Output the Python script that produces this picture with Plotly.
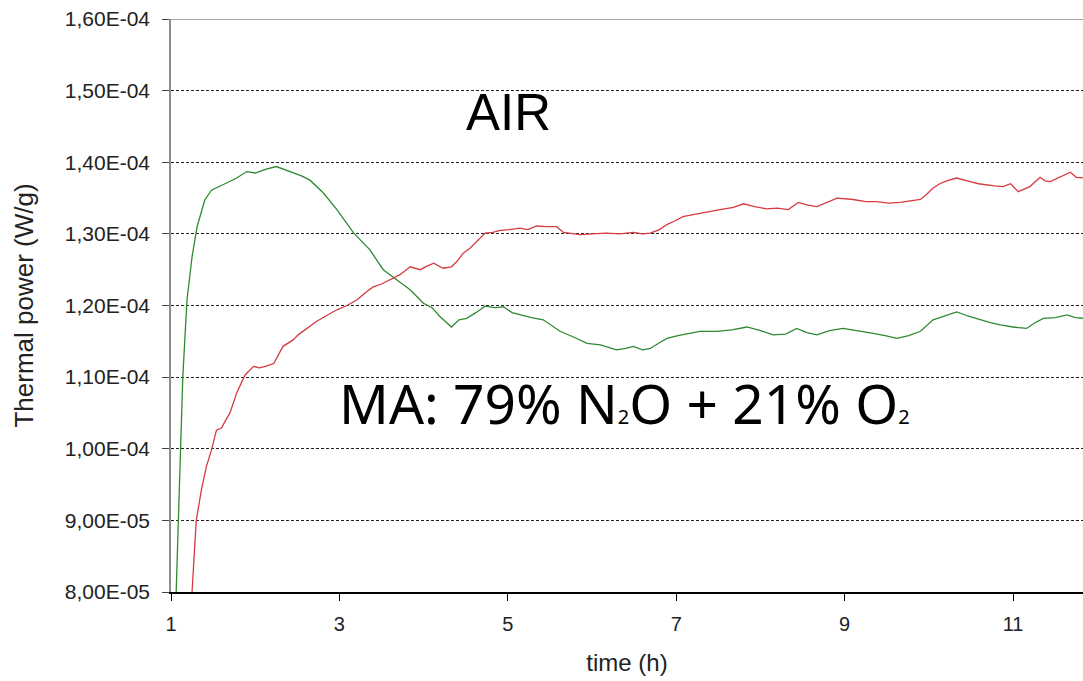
import numpy as np
import plotly.graph_objects as go

# time (h)
green_time = [1.06, 1.11, 1.14, 1.19, 1.25, 1.31, 1.40, 1.48, 1.56, 1.66, 1.78, 1.90, 2.00, 2.12, 2.25, 2.35,
              2.45, 2.55, 2.65, 2.81, 2.97, 3.17, 3.36, 3.52, 3.68, 3.84, 4.00, 4.10, 4.19, 4.27, 4.33, 4.42,
              4.51, 4.62, 4.73, 4.84, 4.95, 5.05, 5.14, 5.28, 5.42, 5.52, 5.62, 5.78, 5.94, 6.10, 6.29, 6.40,
              6.49, 6.60, 6.69, 6.80, 6.89, 7.02, 7.16, 7.28, 7.48, 7.66, 7.84, 8.00, 8.15, 8.30, 8.43, 8.55,
              8.67, 8.82, 8.98, 9.16, 9.34, 9.48, 9.62, 9.76, 9.90, 10.05, 10.20, 10.33, 10.47, 10.61, 10.73,
              10.85, 11.00, 11.16, 11.26, 11.36, 11.50, 11.64, 11.74, 11.85]
# thermal power, in units of 1e-4 W/g (MA: 79% N2O + 21% O2)
green_power_e4 = [0.795, 1.000, 1.100, 1.208, 1.268, 1.310, 1.347, 1.361, 1.365, 1.371, 1.378, 1.387, 1.385,
                  1.390, 1.394, 1.390, 1.385, 1.381, 1.375, 1.357, 1.334, 1.301, 1.278, 1.250, 1.236, 1.222,
                  1.203, 1.197, 1.185, 1.176, 1.170, 1.180, 1.182, 1.190, 1.199, 1.197, 1.198, 1.190, 1.187,
                  1.183, 1.180, 1.172, 1.164, 1.156, 1.147, 1.145, 1.138, 1.140, 1.143, 1.138, 1.140, 1.148,
                  1.154, 1.158, 1.161, 1.164, 1.164, 1.166, 1.170, 1.165, 1.159, 1.160, 1.168, 1.162, 1.159,
                  1.165, 1.168, 1.164, 1.161, 1.158, 1.154, 1.158, 1.164, 1.180, 1.186, 1.191, 1.185, 1.180,
                  1.176, 1.173, 1.170, 1.168, 1.176, 1.182, 1.183, 1.187, 1.183, 1.182]

red_time = [1.23, 1.25, 1.30, 1.36, 1.42, 1.48, 1.54, 1.60, 1.65, 1.70, 1.78, 1.88, 1.98, 2.05, 2.12, 2.22,
            2.33, 2.45, 2.51, 2.62, 2.73, 2.85, 2.97, 3.09, 3.21, 3.30, 3.40, 3.50, 3.60, 3.72, 3.84, 3.96,
            4.04, 4.12, 4.23, 4.33, 4.40, 4.47, 4.55, 4.63, 4.73, 4.82, 4.91, 5.02, 5.14, 5.24, 5.34, 5.46,
            5.58, 5.66, 5.76, 5.86, 6.00, 6.17, 6.33, 6.49, 6.60, 6.69, 6.80, 6.89, 6.98, 7.08, 7.20, 7.28,
            7.36, 7.52, 7.68, 7.80, 7.93, 8.07, 8.20, 8.33, 8.45, 8.56, 8.67, 8.80, 8.91, 9.10, 9.25, 9.38,
            9.52, 9.66, 9.80, 9.90, 9.98, 10.05, 10.13, 10.21, 10.33, 10.41, 10.49, 10.59, 10.69, 10.78,
            10.88, 10.97, 11.06, 11.13, 11.20, 11.32, 11.38, 11.44, 11.56, 11.68, 11.75, 11.85]
# thermal power, in units of 1e-4 W/g (AIR)
red_power_e4 = [0.795, 0.800, 0.900, 0.942, 0.975, 0.998, 1.026, 1.029, 1.040, 1.050, 1.078, 1.103, 1.115,
                1.113, 1.115, 1.119, 1.143, 1.152, 1.159, 1.168, 1.178, 1.186, 1.194, 1.200, 1.208, 1.217,
                1.226, 1.230, 1.236, 1.243, 1.254, 1.250, 1.255, 1.259, 1.252, 1.254, 1.262, 1.273, 1.280,
                1.289, 1.301, 1.302, 1.305, 1.306, 1.308, 1.306, 1.311, 1.310, 1.310, 1.302, 1.301, 1.299,
                1.300, 1.301, 1.300, 1.302, 1.300, 1.301, 1.306, 1.313, 1.318, 1.324, 1.327, 1.329, 1.331,
                1.334, 1.337, 1.342, 1.338, 1.335, 1.336, 1.334, 1.344, 1.340, 1.338, 1.344, 1.350, 1.348,
                1.345, 1.345, 1.343, 1.344, 1.346, 1.348, 1.356, 1.364, 1.370, 1.374, 1.378, 1.375, 1.373,
                1.370, 1.368, 1.367, 1.366, 1.370, 1.359, 1.362, 1.366, 1.379, 1.374, 1.373, 1.380, 1.386,
                1.379, 1.378]

y_tick_values = [8e-5, 9e-5, 1.0e-4, 1.1e-4, 1.2e-4, 1.3e-4, 1.4e-4, 1.5e-4, 1.6e-4]
y_tick_labels = ["8,00E-05", "9,00E-05", "1,00E-04", "1,10E-04", "1,20E-04",
                 "1,30E-04", "1,40E-04", "1,50E-04", "1,60E-04"]
x_tick_values = [1, 3, 5, 7, 9, 11]
x_tick_labels = ["1", "3", "5", "7", "9", "11"]

SCALE = 1e-4

fig = go.Figure()
fig.add_trace(go.Scatter(x=green_time, y=np.array(green_power_e4) * SCALE, mode="lines",
                         line=dict(color="#2f8a2f", width=1.3), name="MA"))
fig.add_trace(go.Scatter(x=red_time, y=np.array(red_power_e4) * SCALE, mode="lines",
                         line=dict(color="#d63a42", width=1.3), name="AIR"))

fig.add_annotation(x=4.48, y=1.469e-4, xref="x", yref="y", text="AIR", showarrow=False,
                   xanchor="left", yanchor="middle",
                   font=dict(family="Liberation Sans, Arial", size=51, color="black"))
fig.add_annotation(x=2.97, y=1.064e-4, xref="x", yref="y",
                   text='MA: 79% N<span style="font-size:20px">2</span>O + 21% O<span style="font-size:20px">2</span>',
                   showarrow=False, xanchor="left", yanchor="middle",
                   font=dict(family="Noto Sans", size=55, color="black"))

fig.add_shape(type="line", xref="paper", yref="y", x0=0, x1=1, y0=1.6e-4, y1=1.6e-4,
              line=dict(color="#8c8c8c", width=1.5))

fig.update_layout(
    width=1083, height=681,
    margin=dict(l=171, r=0, t=19, b=89),
    paper_bgcolor="white", plot_bgcolor="white",
    showlegend=False,
    font=dict(family="Liberation Sans, Arial", color="#222"),
)
fig.update_xaxes(
    range=[1, 11.83], tickvals=x_tick_values, ticktext=x_tick_labels,
    showgrid=False, zeroline=False,
    showline=True, linecolor="black", linewidth=1.5,
    ticks="outside", ticklen=7, tickcolor="black", tickwidth=1,
    ticklabelstandoff=6,
    tickfont=dict(size=20, color="#222"),
    title=dict(text="time (h)", font=dict(size=24, color="#222"), standoff=20),
)
fig.update_yaxes(
    range=[8e-5, 1.6e-4], tickvals=y_tick_values, ticktext=y_tick_labels,
    showgrid=True, gridcolor="#222", gridwidth=1, griddash="3px,2px",
    zeroline=False,
    showline=True, linecolor="#8c8c8c", linewidth=1.5,
    ticks="outside", ticklen=7, tickcolor="#444", tickwidth=1,
    ticklabelstandoff=8,
    tickfont=dict(size=21, color="#222"),
    title=dict(text="Thermal power (W/g)", font=dict(size=26, color="#222"), standoff=24),
)

fig.write_html("out.html")
